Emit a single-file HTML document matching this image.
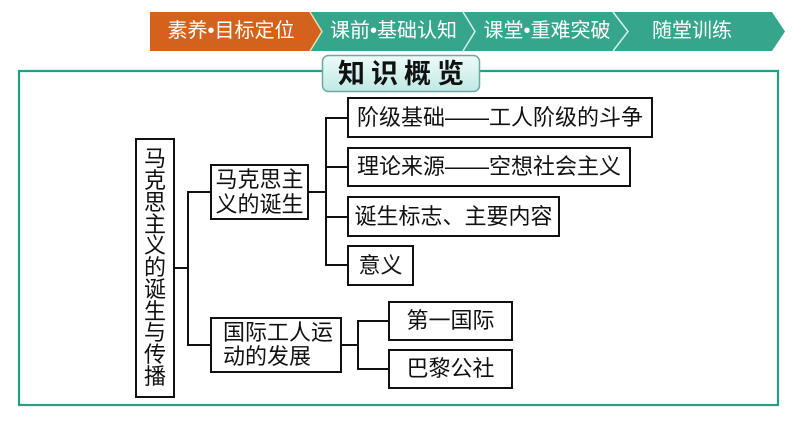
<!DOCTYPE html>
<html><head><meta charset="utf-8">
<style>
html,body{margin:0;padding:0;background:#fff;}
body{width:794px;height:446px;position:relative;overflow:hidden;font-family:"Liberation Sans","Noto Sans CJK SC",sans-serif;}
.abs{position:absolute;}
.box{position:absolute;box-sizing:border-box;border:2px solid #111;background:#fff;display:flex;align-items:center;justify-content:center;font-size:22px;color:#111;white-space:nowrap;line-height:24px;}
.nav{position:absolute;color:#fff;font-size:20px;line-height:24px;top:19px;white-space:nowrap;}
</style></head><body>
<svg class="abs" style="left:0;top:0" width="794" height="446">
  <!-- nav bar -->
  <polygon points="310,12 772,12 785,31.5 772,51 310,51" fill="#35a58b"/>
  <polygon points="150,12 310,12 322,31.5 310,51 150,51" fill="#d2621c"/>
  <polyline points="310,12 322,31.5 310,51" fill="none" stroke="#e8e0b0" stroke-width="1.5"/>
  <polyline points="463,12 475,31.5 463,51" fill="none" stroke="#d8f0e8" stroke-width="1.5"/>
  <polyline points="613,12 628,31.5 613,51" fill="none" stroke="#d8f0e8" stroke-width="1.5"/>
  <!-- frame -->
  <rect x="19" y="71" width="759" height="334" fill="none" stroke="#22a085" stroke-width="2.2"/>
  <!-- title box -->
  <defs><linearGradient id="g" x1="0" y1="0" x2="0" y2="1">
    <stop offset="0" stop-color="#eefbf9"/><stop offset="1" stop-color="#bfe9e4"/></linearGradient></defs>
  <rect x="322.5" y="55.5" width="157" height="36" rx="6" ry="6" fill="url(#g)" stroke="#6fa8a2" stroke-width="1.5"/>
  <!-- connectors -->
  <g stroke="#111" stroke-width="2" fill="none">
    <line x1="175" y1="268" x2="188" y2="268"/>
    <line x1="188" y1="191" x2="188" y2="346"/>
    <line x1="187" y1="192" x2="210" y2="192"/>
    <line x1="187" y1="345" x2="210" y2="345"/>
    <line x1="309" y1="192" x2="326" y2="192"/>
    <line x1="326" y1="117" x2="326" y2="266"/>
    <line x1="325" y1="118" x2="347" y2="118"/>
    <line x1="326" y1="167" x2="347" y2="167"/>
    <line x1="326" y1="217" x2="347" y2="217"/>
    <line x1="325" y1="265" x2="347" y2="265"/>
    <line x1="342" y1="345" x2="358" y2="345"/>
    <line x1="358" y1="320" x2="358" y2="370"/>
    <line x1="357" y1="321" x2="388" y2="321"/>
    <line x1="357" y1="369" x2="388" y2="369"/>
  </g>
</svg>

<div class="nav" style="left:165px;width:132px;text-align:center;">素养•目标定位</div>
<div class="nav" style="left:327px;width:133px;text-align:center;">课前•基础认知</div>
<div class="nav" style="left:482px;width:130px;text-align:center;">课堂•重难突破</div>
<div class="nav" style="left:650px;width:84px;text-align:center;">随堂训练</div>

<div class="abs" style="left:322px;top:56px;width:158px;height:36px;display:flex;align-items:center;justify-content:center;font-size:27px;font-weight:bold;color:#111;letter-spacing:6px;padding-left:6px;box-sizing:border-box;line-height:30px;">知识概览</div>

<div class="box" style="left:135px;top:138px;width:40px;height:260px;white-space:normal;">
  <div style="width:22px;line-height:21.8px;text-align:center;word-break:break-all;">马克思主义的诞生与传播</div>
</div>
<div class="box" style="left:210px;top:164px;width:99px;height:56px;white-space:normal;line-height:25px;">
  <div style="width:88px;">马克思主<br>义的诞生</div>
</div>
<div class="box" style="left:210px;top:317px;width:132px;height:56px;justify-content:flex-start;padding-left:11px;line-height:24px;">
  <div>国际工人运<br>动的发展</div>
</div>
<div class="box" style="left:347px;top:97px;width:306px;height:41px;">阶级基础——工人阶级的斗争</div>
<div class="box" style="left:347px;top:147px;width:284px;height:40px;">理论来源——空想社会主义</div>
<div class="box" style="left:347px;top:196px;width:213px;height:41px;">诞生标志、主要内容</div>
<div class="box" style="left:347px;top:245px;width:67px;height:41px;">意义</div>
<div class="box" style="left:388px;top:301px;width:125px;height:40px;">第一国际</div>
<div class="box" style="left:388px;top:349px;width:125px;height:40px;">巴黎公社</div>
</body></html>
